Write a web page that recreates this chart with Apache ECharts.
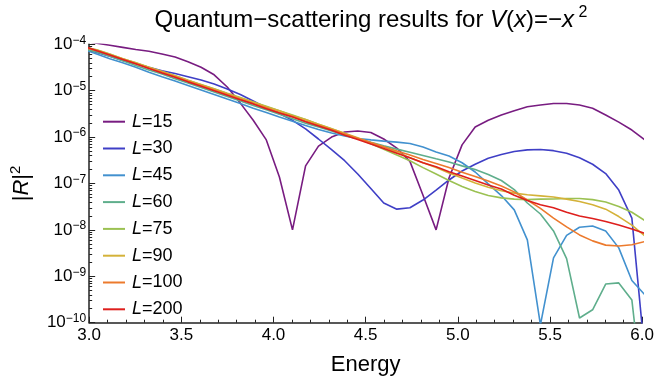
<!DOCTYPE html>
<html>
<head>
<meta charset="utf-8">
<script src="https://cdn.jsdelivr.net/npm/echarts@6/dist/echarts.min.js"></script>
<style>
  html, body { margin: 0; background: #fff; }
  #chart { width: 657px; height: 383px; }
</style>
</head>
<body>
<div id="chart"></div>
<script>
// energy grid shared by all runs
const energy = [2.970, 3.041, 3.112, 3.182, 3.253, 3.324, 3.395, 3.466, 3.536, 3.607,
  3.678, 3.749, 3.820, 3.890, 3.961, 4.032, 4.103, 4.174, 4.244, 4.315,
  4.386, 4.457, 4.528, 4.598, 4.669, 4.740, 4.811, 4.882, 4.952, 5.023,
  5.094, 5.165, 5.236, 5.306, 5.377, 5.448, 5.519, 5.590, 5.660, 5.731,
  5.802, 5.873, 5.944, 6.014];

// |R|^2 for each box size L
const L15 = [1.18e-4, 1.05e-4, 9.5e-5, 8.6e-5, 7.7e-5, 7.1e-5, 6.2e-5, 5.3e-5, 4.2e-5, 3.2e-5,
  2.2e-5, 1.2e-5, 5.4e-6, 2.3e-6, 8.7e-7, 1.38e-7, 1.0e-8, 2.4e-7, 6.4e-7, 1.0e-6,
  1.29e-6, 1.35e-6, 1.26e-6, 9.1e-7, 5.8e-7, 3.0e-7, 5.6e-8, 1.0e-8, 1.31e-7, 6.8e-7,
  1.65e-6, 2.3e-6, 3.0e-6, 3.7e-6, 4.5e-6, 4.9e-6, 5.3e-6, 5.3e-6, 4.9e-6, 4.2e-6,
  3.0e-6, 2.1e-6, 1.42e-6, 8.7e-7];
const L30 = [8.1e-5, 6.7e-5, 5.5e-5, 4.5e-5, 3.8e-5, 3.2e-5, 2.7e-5, 2.35e-5, 2.0e-5, 1.7e-5,
  1.4e-5, 1.09e-5, 8.3e-6, 6.0e-6, 4.3e-6, 3.2e-6, 2.3e-6, 1.5e-6, 9.1e-7, 5.4e-7,
  3.1e-7, 1.6e-7, 7.8e-8, 3.8e-8, 2.8e-8, 3.0e-8, 4.4e-8, 7.2e-8, 1.19e-7, 1.86e-7,
  2.6e-7, 3.5e-7, 4.2e-7, 4.9e-7, 5.3e-7, 5.4e-7, 5.1e-7, 4.5e-7, 3.6e-7, 2.6e-7,
  1.64e-7, 7.2e-8, 1.8e-8, 2.1e-11];
const L45 = [7.7e-5, 6.2e-5, 4.9e-5, 4.0e-5, 3.2e-5, 2.5e-5, 2.0e-5, 1.62e-5, 1.3e-5, 1.04e-5,
  8.3e-6, 6.6e-6, 5.3e-6, 4.2e-6, 3.4e-6, 2.7e-6, 2.2e-6, 1.78e-6, 1.46e-6, 1.23e-6,
  1.06e-6, 9.3e-7, 8.7e-7, 8.2e-7, 7.8e-7, 7.3e-7, 6.1e-7, 4.8e-7, 3.9e-7, 2.8e-7,
  1.77e-7, 9.8e-8, 5.5e-8, 2.7e-8, 6.1e-9, 9.0e-11, 2.5e-9, 7.6e-9, 1.14e-8, 1.21e-8,
  9.5e-9, 4.1e-9, 8.1e-10, 4.0e-10];
const L60 = [8.0e-5, 6.8e-5, 5.5e-5, 4.4e-5, 3.5e-5, 2.8e-5, 2.3e-5, 1.82e-5, 1.47e-5, 1.17e-5,
  9.4e-6, 7.5e-6, 6.0e-6, 4.8e-6, 3.9e-6, 3.1e-6, 2.5e-6, 2.0e-6, 1.65e-6, 1.35e-6,
  1.11e-6, 9.2e-7, 7.7e-7, 6.5e-7, 5.5e-7, 4.7e-7, 4.0e-7, 3.4e-7, 2.9e-7, 2.4e-7,
  2.0e-7, 1.56e-7, 1.16e-7, 7.4e-8, 3.8e-8, 2.2e-8, 9.5e-9, 2.4e-9, 1.26e-10, 1.9e-10,
  6.8e-10, 7.2e-10, 3.1e-10, 1.1e-12];
const L75 = [8.8e-5, 7.6e-5, 6.2e-5, 4.9e-5, 4.0e-5, 3.2e-5, 2.6e-5, 2.1e-5, 1.68e-5, 1.36e-5,
  1.1e-5, 8.8e-6, 7.1e-6, 5.7e-6, 4.6e-6, 3.7e-6, 3.0e-6, 2.4e-6, 1.9e-6, 1.51e-6,
  1.2e-6, 9.3e-7, 7.2e-7, 5.5e-7, 4.1e-7, 3.1e-7, 2.2e-7, 1.6e-7, 1.16e-7, 8.6e-8,
  6.7e-8, 5.5e-8, 4.9e-8, 4.6e-8, 4.5e-8, 4.6e-8, 4.65e-8, 4.75e-8, 4.75e-8, 4.5e-8,
  4.0e-8, 3.2e-8, 2.4e-8, 1.6e-8];
const L90 = [8.7e-5, 7.5e-5, 6.1e-5, 4.9e-5, 4.0e-5, 3.2e-5, 2.6e-5, 2.1e-5, 1.67e-5, 1.35e-5,
  1.09e-5, 8.7e-6, 7.0e-6, 5.7e-6, 4.5e-6, 3.7e-6, 2.9e-6, 2.4e-6, 1.9e-6, 1.52e-6,
  1.21e-6, 9.7e-7, 7.6e-7, 6.1e-7, 4.7e-7, 3.6e-7, 2.8e-7, 2.2e-7, 1.68e-7, 1.31e-7,
  1.03e-7, 8.3e-8, 7.0e-8, 6.2e-8, 5.7e-8, 5.4e-8, 5.1e-8, 4.6e-8, 4.1e-8, 3.5e-8,
  2.8e-8, 1.94e-8, 1.27e-8, 7.4e-9];
const L100 = [8.5e-5, 7.4e-5, 5.9e-5, 4.8e-5, 3.8e-5, 3.1e-5, 2.5e-5, 2.0e-5, 1.6e-5, 1.29e-5,
  1.04e-5, 8.3e-6, 6.6e-6, 5.3e-6, 4.3e-6, 3.4e-6, 2.8e-6, 2.2e-6, 1.8e-6, 1.45e-6,
  1.17e-6, 9.4e-7, 7.6e-7, 6.2e-7, 5.0e-7, 4.1e-7, 3.3e-7, 2.7e-7, 2.2e-7, 1.75e-7,
  1.42e-7, 1.13e-7, 8.8e-8, 6.6e-8, 4.4e-8, 2.9e-8, 1.8e-8, 1.16e-8, 7.8e-9, 5.8e-9,
  4.7e-9, 4.5e-9, 4.8e-9, 5.6e-9];
const L200 = [9.2e-5, 7.3e-5, 5.9e-5, 4.7e-5, 3.8e-5, 3.0e-5, 2.4e-5, 1.94e-5, 1.55e-5, 1.25e-5,
  1.0e-5, 8.0e-6, 6.4e-6, 5.2e-6, 4.1e-6, 3.3e-6, 2.7e-6, 2.15e-6, 1.74e-6, 1.4e-6,
  1.1e-6, 8.9e-7, 7.1e-7, 5.7e-7, 4.5e-7, 3.6e-7, 2.8e-7, 2.3e-7, 1.8e-7, 1.45e-7,
  1.16e-7, 9.3e-8, 7.6e-8, 5.6e-8, 4.3e-8, 3.5e-8, 3.0e-8, 2.4e-8, 2.0e-8, 1.76e-8,
  1.52e-8, 1.27e-8, 1.05e-8, 8.4e-9];

const seriesNames = ["L=15", "L=30", "L=45", "L=60", "L=75", "L=90", "L=100", "L=200"];
const seriesValues = [L15, L30, L45, L60, L75, L90, L100, L200];
const seriesColors = ["#781c81", "#3f3fc6", "#4291cf", "#5fae8c", "#9bc152", "#d4b239", "#ec7a2d", "#de1f1d"];

// y tick labels (decades) and minor tick mantissas
const decades = [1e-10, 1e-9, 1e-8, 1e-7, 1e-6, 1e-5, 1e-4];
const minorMantissas = [2, 3, 4, 5, 6, 7, 8, 9];

const font = "'Liberation Sans', Arial, Helvetica, sans-serif";
const axisColor = "#222";

const minorTicks = [];
decades.slice(0, -1).forEach((d) => minorMantissas.forEach((m) => minorTicks.push(m * d)));

const chart = echarts.init(document.getElementById("chart"));

chart.setOption({
  animation: false,
  textStyle: { fontFamily: font },
  title: {
    text: "{n|Quantum\u2212scattering results for }{i|V}{n|(}{i|x}{n|)=\u2212}{i|x}{s| 2}",
    left: 366,
    textAlign: "center",
    top: 0,
    textStyle: {
      fontWeight: "normal",
      rich: {
        n: { fontSize: 24, fontFamily: font, fontWeight: "normal", color: "#000", lineHeight: 30 },
        i: { fontSize: 24, fontFamily: font, fontWeight: "normal", fontStyle: "italic", color: "#000", lineHeight: 30 },
        s: { fontSize: 16, fontFamily: font, fontWeight: "normal", color: "#000", lineHeight: 18, verticalAlign: "top" }
      }
    }
  },
  legend: {
    orient: "vertical",
    left: 98,
    top: 106.7,
    icon: "rect",
    itemWidth: 22,
    itemHeight: 2,
    itemGap: 6.8,
    data: seriesNames,
    formatter: (name) => "{i|L}" + name.slice(1),
    textStyle: {
      fontSize: 18,
      fontFamily: font,
      color: "#000",
      lineHeight: 20,
      padding: [0, 0, 0, 2],
      rich: {
        i: { fontSize: 18, fontFamily: font, fontStyle: "italic", color: "#000", lineHeight: 20 }
      }
    }
  },
  grid: { left: 87, right: 13, top: 44.3, bottom: 60.3 },
  xAxis: {
    type: "value",
    min: 3,
    max: 6,
    interval: 0.5,
    axisLine: { show: true, lineStyle: { color: axisColor, width: 1.5 } },
    axisTick: { show: true, inside: true, length: 6, lineStyle: { color: axisColor, width: 1 } },
    minorTick: { show: true, splitNumber: 5, length: 3, lineStyle: { color: axisColor, width: 1 } },
    axisLabel: {
      formatter: (value) => value.toFixed(1),
      fontSize: 17,
      color: "#000",
      margin: 4
    },
    splitLine: { show: false },
    name: "Energy",
    nameLocation: "middle",
    nameGap: 31,
    nameTextStyle: { fontSize: 22, color: "#000" }
  },
  yAxis: [
    {
      type: "log",
      logBase: 10,
      min: 1e-10,
      max: 1e-4,
      axisLine: { show: true, lineStyle: { color: axisColor, width: 1.5 } },
      axisTick: { show: true, inside: true, length: 6, customValues: decades, lineStyle: { color: axisColor, width: 1 } },
      axisLabel: {
        customValues: decades,
        margin: 3,
        formatter: (value) => "{b|10}{s|\u2212" + Math.round(-Math.log10(value)) + "}",
        rich: {
          b: { fontSize: 17, fontFamily: font, color: "#000", lineHeight: 20 },
          s: { fontSize: 12, fontFamily: font, color: "#000", lineHeight: 13, verticalAlign: "top" }
        }
      },
      splitLine: { show: false },
      name: "|{i|R}|{s|2}",
      nameLocation: "middle",
      nameRotate: 90,
      nameGap: 52,
      nameTextStyle: {
        fontSize: 22,
        color: "#000",
        lineHeight: 28,
        rich: {
          i: { fontSize: 22, fontFamily: font, fontStyle: "italic", color: "#000", lineHeight: 28 },
          s: { fontSize: 15, fontFamily: font, color: "#000", lineHeight: 16, verticalAlign: "top" }
        }
      }
    },
    {
      type: "log",
      logBase: 10,
      min: 1e-10,
      max: 1e-4,
      position: "left",
      axisLine: { show: false },
      axisLabel: { show: false },
      axisTick: { show: true, inside: true, length: 3, customValues: minorTicks, lineStyle: { color: axisColor, width: 1 } },
      splitLine: { show: false }
    }
  ],
  series: seriesValues.map((values, index) => ({
    name: seriesNames[index],
    type: "line",
    yAxisIndex: 0,
    data: energy.map((e, i) => [e, values[i]]),
    symbol: "none",
    clip: true,
    lineStyle: { width: 1.6, color: seriesColors[index] },
    itemStyle: { color: seriesColors[index] }
  }))
});
</script>
</body>
</html>
